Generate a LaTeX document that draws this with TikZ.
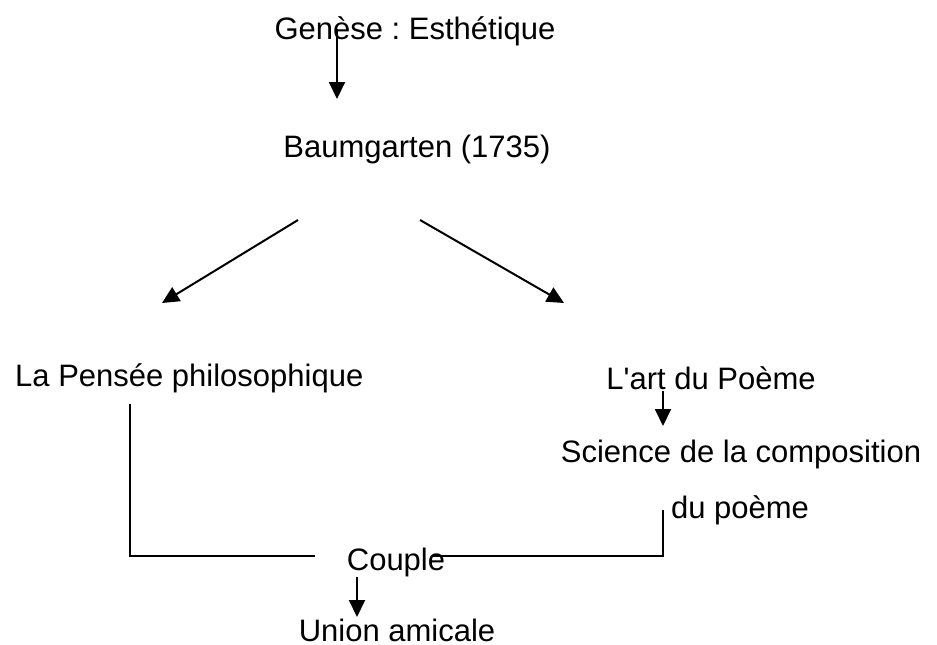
\documentclass[tikz,border=0pt]{standalone}
\usepackage{fontspec}
\setmainfont{Liberation Sans}
\usetikzlibrary{arrows.meta}
\frenchspacing
\begin{document}
\begin{tikzpicture}[x=1pt,y=-1pt,
  label/.style={anchor=base,inner sep=0pt,font=\fontsize{31}{37}\selectfont},
  link/.style={line width=2pt},
  arr/.style={line width=2pt,-{Triangle[width=16pt,length=17pt]}}]
\useasboundingbox (0,0) rectangle (937,645);
% texts
\node[label] (genese) at (415,39) {Genèse : Esthétique};
\node[label] (baum) at (417,157) {Baumgarten (1735)};
\node[label,anchor=base west] (pensee) at (15,386) {La Pensée philosophique};
\node[label] (art) at (711,389) {L\textquotesingle art du Poème};
\node[label] (science) at (741,462) {Science de la composition};
\node[label] (poeme) at (740,518) {du poème};
\node[label] (couple) at (396,570) {Couple};
\node[label] (union) at (397,641) {Union amicale};
% arrow ends
\coordinate (g1) at (337,29);  \coordinate (g2) at (337,99);
\coordinate (bl1) at (298,220); \coordinate (bl2) at (162,303);
\coordinate (br1) at (420,220); \coordinate (br2) at (564,303);
\coordinate (a1) at (663,391); \coordinate (a2) at (663,426);
\coordinate (c1) at (357,577); \coordinate (c2) at (357,617);
% bracket lines
\coordinate (l1) at (130,404); \coordinate (l2) at (130,556); \coordinate (l3) at (315,556);
\coordinate (r1) at (431,556); \coordinate (r2) at (663,556); \coordinate (r3) at (663,510);
\draw[arr] (g1) -- (g2);
\draw[arr] (bl1) -- (bl2);
\draw[arr] (br1) -- (br2);
\draw[arr] (a1) -- (a2);
\draw[arr] (c1) -- (c2);
\draw[link] (l1) -- (l2) -- (l3);
\draw[link] (r1) -- (r2) -- (r3);
\end{tikzpicture}
\end{document}
